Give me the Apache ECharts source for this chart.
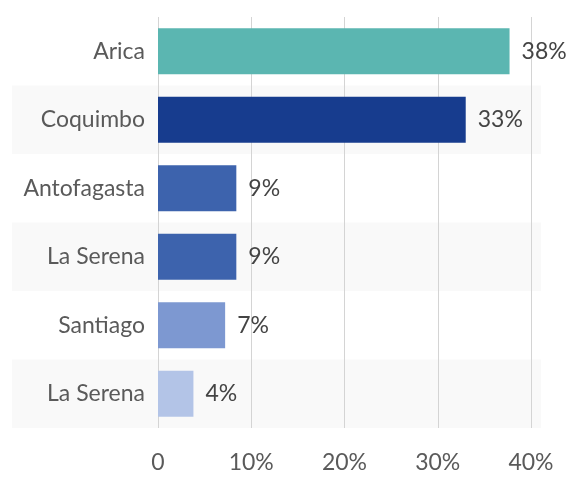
<!DOCTYPE html>
<html>
<head>
<meta charset="utf-8">
<script src="https://cdn.jsdelivr.net/npm/echarts@6/dist/echarts.min.js"></script>
<style>
  html, body { margin: 0; padding: 0; background: #fff; }
  #chart { width: 583px; height: 478px; }
</style>
</head>
<body>
<div id="chart"></div>
<script>
// datos del gráfico
var cities = ['Arica', 'Coquimbo', 'Antofagasta', 'La Serena', 'Santiago', 'La Serena']
var shares = [37.7, 33.0, 8.4, 8.4, 7.2, 3.8]
var shareLabels = ['38%', '33%', '9%', '9%', '7%', '4%']
var barColors = ['#5bb6b1', '#173c8e', '#3d63ad', '#3d63ad', '#7d98d1', '#b3c4e7']
var ticks = [0, 10, 20, 30, 40]

var myChart = echarts.init(document.getElementById('chart'))
var font = 'Lato, "Noto Sans", sans-serif'
var rows = cities.map(function (c, i) { return i })

var option = {
  animation: false,
  grid: [
    // franjas de fondo (cubren también las etiquetas)
    { left: 12, right: 42, top: 17, bottom: 50 },
    // barras
    { left: 158, right: 52, top: 17, bottom: 50 }
  ],
  xAxis: [
    { gridIndex: 0, type: 'value', min: 0, max: 1, show: false },
    {
      gridIndex: 1,
      type: 'value',
      min: ticks[0],
      max: ticks[ticks.length - 1],
      interval: 10,
      axisLine: { show: false },
      axisTick: { show: false },
      splitLine: { lineStyle: { color: '#d4d4d4', width: 1 } },
      axisLabel: {
        margin: 23,
        fontFamily: font,
        fontSize: 23,
        color: '#5a5a5a',
        formatter: function (v) { return v === 0 ? '0' : v + '%' }
      }
    }
  ],
  yAxis: [
    {
      gridIndex: 0,
      type: 'category',
      data: rows,
      inverse: true,
      axisLine: { show: false },
      axisTick: { show: false },
      axisLabel: { show: false },
      splitArea: { show: true, areaStyle: { color: ['rgba(255,255,255,0)', '#f9f9f9'] } }
    },
    {
      gridIndex: 1,
      type: 'category',
      data: rows,
      inverse: true,
      axisLine: { show: false },
      axisTick: { show: false },
      axisLabel: {
        margin: 13,
        fontFamily: font,
        fontSize: 23,
        color: '#5a5a5a',
        formatter: function (v) { return cities[v] }
      }
    }
  ],
  series: [
    {
      type: 'bar',
      xAxisIndex: 1,
      yAxisIndex: 1,
      barWidth: '67%',
      data: shares.map(function (v, i) {
        return { value: v, itemStyle: { color: barColors[i] } }
      }),
      label: {
        show: true,
        position: 'right',
        distance: 12,
        fontFamily: font,
        fontSize: 23,
        color: '#444',
        formatter: function (p) { return shareLabels[p.dataIndex] }
      }
    }
  ]
}

myChart.setOption(option)
</script>
</body>
</html>
